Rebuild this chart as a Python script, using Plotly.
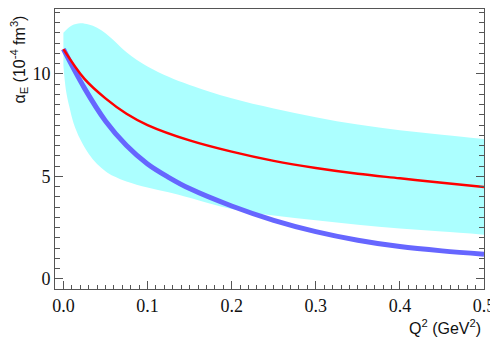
import plotly.graph_objects as go

# Red curve
red_q = [0.0, 0.025, 0.05, 0.075, 0.1, 0.15, 0.2, 0.25, 0.3, 0.35, 0.4, 0.45, 0.5]
red_v = [11.2, 9.75, 8.8, 8.05, 7.5, 6.75, 6.2, 5.75, 5.4, 5.12, 4.9, 4.68, 4.47]

# Blue curve
blue_q = [0.0, 0.025, 0.05, 0.075, 0.1, 0.125, 0.15, 0.2, 0.25, 0.3, 0.35, 0.4, 0.45, 0.5]
blue_v = [11.2, 9.3, 7.7, 6.5, 5.6, 4.95, 4.4, 3.55, 2.85, 2.3, 1.88, 1.57, 1.36, 1.2]

# Cyan band
upper_q = [0.0, 0.01, 0.02, 0.03, 0.04, 0.05, 0.06, 0.075, 0.1, 0.125, 0.15, 0.2, 0.25, 0.3, 0.35, 0.4, 0.45, 0.5]
upper_v = [12.0, 12.35, 12.46, 12.4, 12.25, 11.98, 11.62, 11.05, 10.35, 9.85, 9.45, 8.8, 8.3, 7.88, 7.52, 7.25, 7.03, 6.82]
lower_q = [0.0, 0.003, 0.007, 0.012, 0.02, 0.03, 0.04, 0.05, 0.06, 0.075, 0.1, 0.125, 0.15, 0.2, 0.25, 0.3, 0.35, 0.4, 0.45, 0.5]
lower_v = [10.4, 9.2, 8.4, 7.6, 6.8, 6.1, 5.6, 5.25, 5.0, 4.75, 4.45, 4.22, 3.95, 3.4, 3.08, 2.85, 2.63, 2.45, 2.3, 2.15]

x_ticks = [0.0, 0.1, 0.2, 0.3, 0.4, 0.5]
x_tick_labels = ["0.0", "0.1", "0.2", "0.3", "0.4", "0.5"]
y_ticks = [0, 5, 10]
y_tick_labels = ["0", "5", "10"]

fig = go.Figure()

fig.add_trace(go.Scatter(x=lower_q, y=lower_v, mode="lines",
                         line=dict(color="rgba(0,0,0,0)", width=0, shape="spline"),
                         hoverinfo="skip", showlegend=False))
fig.add_trace(go.Scatter(x=upper_q, y=upper_v, mode="lines", fill="tonexty",
                         fillcolor="rgb(172,255,255)",
                         line=dict(color="rgba(0,0,0,0)", width=0, shape="spline"),
                         hoverinfo="skip", showlegend=False))
fig.add_trace(go.Scatter(x=blue_q, y=blue_v, mode="lines",
                         line=dict(color="#6666ff", width=5, shape="spline"),
                         showlegend=False))
fig.add_trace(go.Scatter(x=red_q, y=red_v, mode="lines",
                         line=dict(color="#ff0000", width=2.5, shape="spline"),
                         showlegend=False))

axis_color = "#555555"
fig.update_xaxes(range=[-0.01, 0.5], tickvals=x_ticks, ticktext=x_tick_labels,
                 ticks="inside", ticklen=8, tickwidth=1, tickcolor=axis_color,
                 showline=True, linecolor=axis_color, linewidth=1, mirror=True,
                 showgrid=False, zeroline=False,
                 tickfont=dict(family="Liberation Serif", size=18, color="#111"),
                 minor=dict(dtick=0.01, tick0=0, ticks="inside", ticklen=4,
                            tickcolor=axis_color, showgrid=False))
fig.update_yaxes(range=[-0.5, 13.16], tickvals=y_ticks, ticktext=y_tick_labels,
                 ticks="inside", ticklen=8, tickwidth=1, tickcolor=axis_color,
                 showline=True, linecolor=axis_color, linewidth=1, mirror="ticks",
                 showgrid=False, zeroline=False,
                 tickfont=dict(family="Liberation Serif", size=18, color="#111"),
                 minor=dict(dtick=0.5, tick0=0, ticks="inside", ticklen=5,
                            tickcolor=axis_color, showgrid=False))

fig.add_annotation(text="Q<sup>2</sup> (GeV<sup>2</sup>)", xref="paper", yref="paper",
                   x=0.997, y=-0.135, xanchor="right", yanchor="middle", showarrow=False,
                   font=dict(family="Liberation Sans", size=16, color="#111"))
fig.add_annotation(text="α<sub>E</sub> (10<sup>-4</sup> fm<sup>3</sup>)", xref="paper", yref="paper",
                   x=-0.083, y=0.985, xanchor="center", yanchor="top", showarrow=False,
                   textangle=-90,
                   font=dict(family="Liberation Sans", size=16, color="#111"))

fig.update_layout(width=490, height=330, margin=dict(l=47, r=14, t=1, b=49),
                  paper_bgcolor="white", plot_bgcolor="white")

fig.write_html("out.html")
